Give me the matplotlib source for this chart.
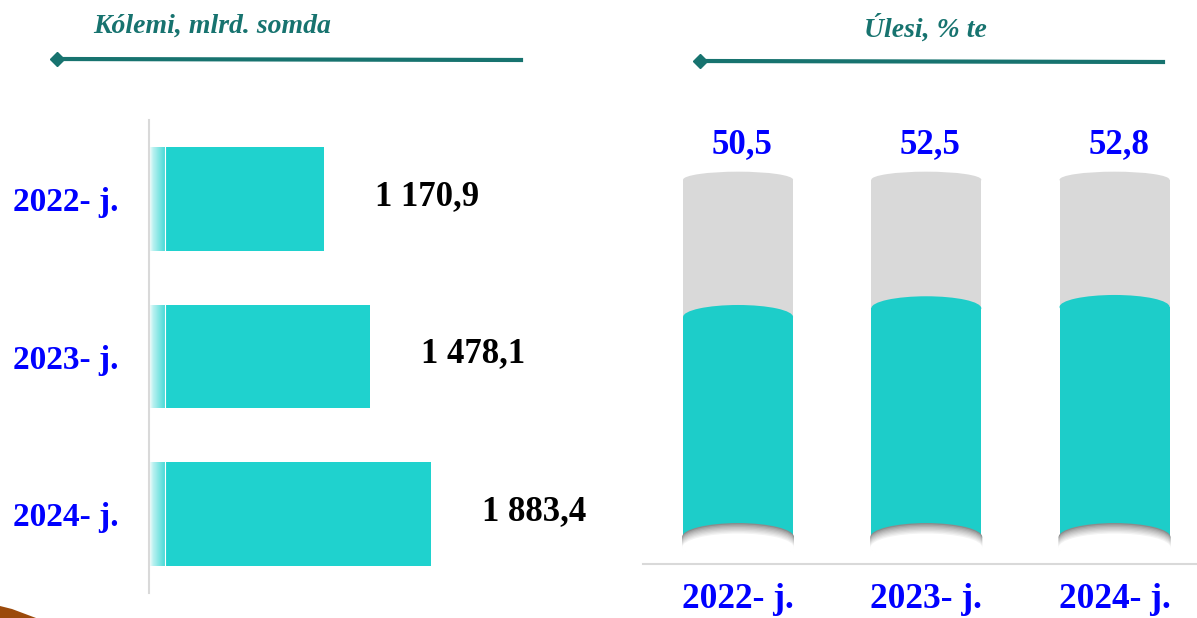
import matplotlib.pyplot as plt
import numpy as np
from matplotlib.patches import Ellipse, Rectangle, Polygon
from matplotlib.lines import Line2D

# data
years = ['2022- j.', '2023- j.', '2024- j.']
volume = [1170.9, 1478.1, 1883.4]          # mlrd. somda
volume_lbl = ['1 170,9', '1 478,1', '1 883,4']
share = [50.5, 52.5, 52.8]                 # % te
share_lbl = ['50,5', '52,5', '52,8']
share_bg = [82, 82, 82]                    # grey back column

TEAL = '#1FD2CE'
TEAL2 = '#1DCDC9'
GREY = '#D9D9D9'
DARK_TEAL = '#17736F'
BLUE = '#0000FF'
FONT = 'Liberation Serif'

W, H = 1197, 618


def px_rect(l, t, r, b):
    # pixel box (top-left origin) -> figure fraction
    return [l / W, 1 - b / H, (r - l) / W, (b - t) / H]


def HEADER(fig, text, cx, base_y, x0, x1, ly):
    fig.text(cx / W, 1 - base_y / H, text, ha='center', va='baseline',
             family=FONT, style='italic', weight='bold', size=20, color=DARK_TEAL)
    ln = Line2D([x0 / W, x1 / W], [1 - ly / H, 1 - (ly + 1) / H], lw=3,
                color=DARK_TEAL, marker='D', markersize=7.5, markevery=[0],
                transform=fig.transFigure)
    fig.add_artist(ln)


def PLOT_VOLUME(fig):
    ax = fig.add_axes(px_rect(149, 120.25, 640, 592.75))
    pos = np.arange(len(years))
    h = 0.66
    ax.barh(pos, volume, height=h, color=TEAL, zorder=2)

    # faded left edge of each bar
    t = np.linspace(0, 1, 60)
    grad = np.ones((1, 60, 4))
    grad[0, :, 3] = np.interp(t, [0, 0.25, 1], [1.0, 0.7, 0.2])
    fade = 105
    for i in pos:
        ax.imshow(grad, extent=(0, fade, i + h / 2, i - h / 2), aspect='auto', zorder=3)
        ax.plot([fade, fade], [i - h / 2, i + h / 2], color='white', lw=0.8, zorder=3)

    for i, v in enumerate(volume):
        ax.annotate(volume_lbl[i], xy=(v, i), xytext=(37, 2), textcoords='offset points',
                    ha='left', va='center', family=FONT, weight='bold', size=25, color='k')

    ax.set_xlim(0, 491 / 0.1495)
    ax.set_ylim(2.5, -0.5)
    ax.set_xticks([])
    ax.set_yticks(pos)
    ax.set_yticklabels(years, family=FONT, weight='bold', size=24, color=BLUE)
    ax.tick_params(axis='y', length=0, pad=22)
    for s in ['top', 'right', 'bottom']:
        ax.spines[s].set_visible(False)
    ax.spines['left'].set_color(GREY)
    ax.spines['left'].set_linewidth(1.5)
    ax.spines['left'].set_zorder(5)
    ax.patch.set_alpha(0)


def PLOT_SHARE(fig):
    ax = fig.add_axes(px_rect(643, 100, 1197, 564))
    w = 110 / 188.25
    for i, v in enumerate(share):
        bg = share_bg[i]
        # grey back column with rounded top
        ax.add_patch(Rectangle((i - w / 2, 0), w, bg, color=GREY, lw=0, zorder=1))
        ax.add_patch(Ellipse((i, bg), w, 3.7, color=GREY, lw=0, zorder=1))
        # teal fill with domed top
        ax.add_patch(Rectangle((i - w / 2, 0), w, v, color=TEAL2, lw=0, zorder=3))
        ax.add_patch(Ellipse((i, v), w, 5.5, color=TEAL2, lw=0, zorder=3))
        # concave bottom with shadow underneath
        n = 9
        for k in range(n):
            g = 0.55 + 0.45 * (k / (n - 1)) ** 0.8
            ax.add_patch(Ellipse((i, -k * 0.3), w + 0.01, 6.4, color=(g, g, g), lw=0,
                                 zorder=4 + k * 0.01))
        ax.annotate(share_lbl[i], xy=(i, bg), xytext=(3, 19.5), textcoords='offset points',
                    ha='center', va='baseline', family=FONT, weight='bold', size=25,
                    color=BLUE)

    ax.set_xlim(-0.505, 2.438)
    ax.set_ylim(-6.2, 100.3)
    ax.set_yticks([])
    ax.set_xticks(range(len(years)))
    ax.set_xticklabels(years, family=FONT, weight='bold', size=25.5, color=BLUE)
    ax.tick_params(axis='x', length=0, pad=14)
    for s in ['top', 'right', 'left']:
        ax.spines[s].set_visible(False)
    ax.spines['bottom'].set_color(GREY)
    ax.spines['bottom'].set_linewidth(1.5)
    ax.patch.set_alpha(0)


def main():
    fig = plt.figure(figsize=(W / 100, H / 100), dpi=100)
    fig.patch.set_facecolor('white')

    HEADER(fig, 'Kólemi, mlrd. somda', 212, 33, 57, 521, 59)
    HEADER(fig, 'Úlesi, % te', 925, 37, 700, 1163, 61)

    PLOT_VOLUME(fig)
    PLOT_SHARE(fig)

    # brown slide decoration in the corner
    pts = [(0, 618), (0, 606), (12, 609), (36, 618)]
    fig.add_artist(Polygon([(x / W, 1 - y / H) for x, y in pts], closed=True,
                           color='#9B4A0B', lw=0, transform=fig.transFigure))

    fig.savefig('out.png', dpi=100)


if __name__ == "__main__":
    main()
